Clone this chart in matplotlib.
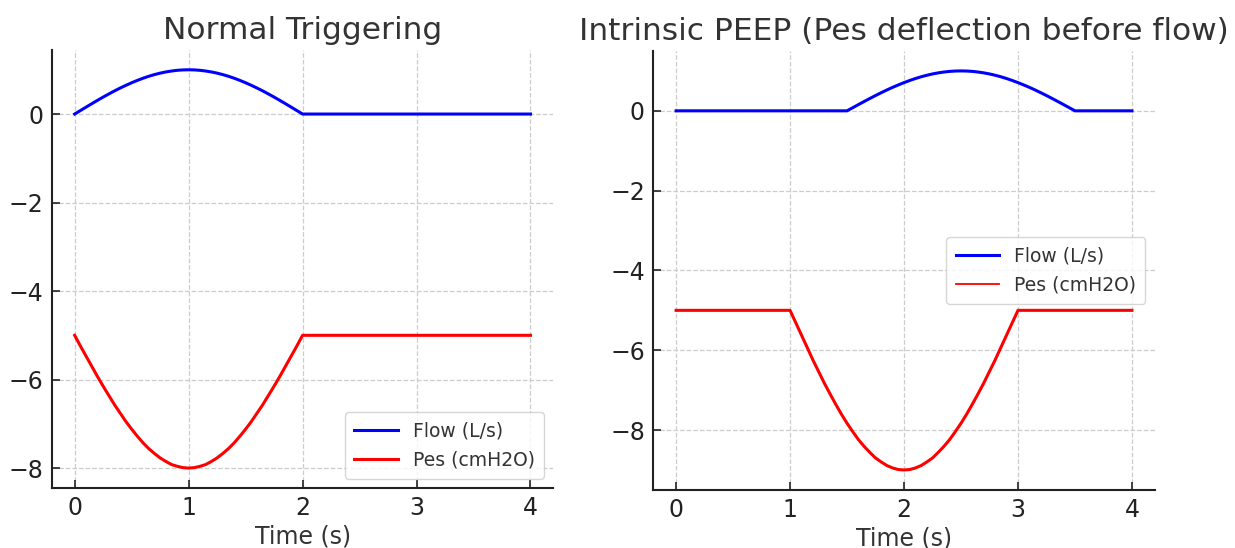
import matplotlib
matplotlib.use("Agg")
import matplotlib.pyplot as plt
from matplotlib.lines import Line2D

# ---------------- Normal triggering ----------------
normal_time = [0.0, 0.05, 0.1, 0.15, 0.2, 0.25, 0.3, 0.35, 0.4, 0.45,
               0.5, 0.55, 0.6, 0.65, 0.7, 0.75, 0.8, 0.85, 0.9, 0.95,
               1.0, 1.05, 1.1, 1.15, 1.2, 1.25, 1.3, 1.35, 1.4, 1.45,
               1.5, 1.55, 1.6, 1.65, 1.7, 1.75, 1.8, 1.85, 1.9, 1.95,
               2.0, 4.0]
normal_flow = [0.0, 0.078, 0.156, 0.233, 0.309, 0.383, 0.454, 0.523, 0.588, 0.649,
               0.707, 0.760, 0.809, 0.853, 0.891, 0.924, 0.951, 0.972, 0.988, 0.997,
               1.0, 0.997, 0.988, 0.972, 0.951, 0.924, 0.891, 0.853, 0.809, 0.760,
               0.707, 0.649, 0.588, 0.523, 0.454, 0.383, 0.309, 0.233, 0.156, 0.078,
               0.0, 0.0]
normal_pes = [-5.0, -5.24, -5.47, -5.70, -5.93, -6.15, -6.36, -6.57, -6.76, -6.95,
              -7.12, -7.28, -7.43, -7.56, -7.67, -7.77, -7.85, -7.92, -7.96, -7.99,
              -8.0, -7.99, -7.96, -7.92, -7.85, -7.77, -7.67, -7.56, -7.43, -7.28,
              -7.12, -6.95, -6.76, -6.57, -6.36, -6.15, -5.93, -5.70, -5.47, -5.24,
              -5.0, -5.0]

# ---------------- Intrinsic PEEP ----------------
peep_flow_time = [0.0, 1.5, 1.55, 1.6, 1.65, 1.7, 1.75, 1.8, 1.85, 1.9, 1.95,
                  2.0, 2.05, 2.1, 2.15, 2.2, 2.25, 2.3, 2.35, 2.4, 2.45,
                  2.5, 2.55, 2.6, 2.65, 2.7, 2.75, 2.8, 2.85, 2.9, 2.95,
                  3.0, 3.05, 3.1, 3.15, 3.2, 3.25, 3.3, 3.35, 3.4, 3.45,
                  3.5, 4.0]
peep_flow = [0.0, 0.0, 0.078, 0.156, 0.233, 0.309, 0.383, 0.454, 0.523, 0.588, 0.649,
             0.707, 0.760, 0.809, 0.853, 0.891, 0.924, 0.951, 0.972, 0.988, 0.997,
             1.0, 0.997, 0.988, 0.972, 0.951, 0.924, 0.891, 0.853, 0.809, 0.760,
             0.707, 0.649, 0.588, 0.523, 0.454, 0.383, 0.309, 0.233, 0.156, 0.078,
             0.0, 0.0]
peep_pes_time = [0.0, 1.0, 1.05, 1.1, 1.15, 1.2, 1.25, 1.3, 1.35, 1.4, 1.45,
                 1.5, 1.55, 1.6, 1.65, 1.7, 1.75, 1.8, 1.85, 1.9, 1.95,
                 2.0, 2.05, 2.1, 2.15, 2.2, 2.25, 2.3, 2.35, 2.4, 2.45,
                 2.5, 2.55, 2.6, 2.65, 2.7, 2.75, 2.8, 2.85, 2.9, 2.95,
                 3.0, 4.0]
peep_pes = [-5.0, -5.0, -5.31, -5.62, -5.93, -6.24, -6.53, -6.82, -7.09, -7.35, -7.60,
            -7.83, -8.04, -8.24, -8.41, -8.56, -8.70, -8.80, -8.89, -8.95, -8.99,
            -9.0, -8.99, -8.95, -8.89, -8.80, -8.70, -8.56, -8.41, -8.24, -8.04,
            -7.83, -7.60, -7.35, -7.09, -6.82, -6.53, -6.24, -5.93, -5.62, -5.31,
            -5.0, -5.0]

titles = ["Normal Triggering", "Intrinsic PEEP (Pes deflection before flow)"]
labels = ["Flow (L/s)", "Pes (cmH2O)"]
xlabel = "Time (s)"
xticks = [0, 1, 2, 3, 4]
yticks = [0, -2, -4, -6, -8]

text_color = "#333333"
plt.rcParams["font.family"] = ["DejaVu Sans"]
plt.rcParams["text.color"] = text_color
plt.rcParams["axes.labelcolor"] = text_color

fig = plt.figure(figsize=(12.35, 5.48), dpi=100)
ax1 = fig.add_axes([0.042, 0.1095, 0.406, 0.7995])
ax2 = fig.add_axes([0.529, 0.106, 0.406, 0.801])

def style(ax):
    ax.spines["top"].set_visible(False)
    ax.spines["right"].set_visible(False)
    for s in ("left", "bottom"):
        ax.spines[s].set_linewidth(1.5)
        ax.spines[s].set_color("#222222")
    ax.tick_params(direction="in", length=6, width=1.2, labelsize=17,
                   colors="#222222", pad=6)
    ax.grid(True, linestyle="--", color="#cccccc", linewidth=0.9)
    ax.set_axisbelow(True)
    ax.set_xticks(xticks)
    ax.set_yticks(yticks)
    ax.set_xlabel(xlabel, fontsize=17, labelpad=3)

# Left panel
ax1.plot(normal_time, normal_flow, color="blue", lw=2.2, label=labels[0])
ax1.plot(normal_time, normal_pes, color="red", lw=2.2, label=labels[1])
style(ax1)
ax1.set_title(titles[0], fontsize=22.5, pad=8)
ax1.legend(loc="lower right", fontsize=13.5, framealpha=0.8, edgecolor="#cccccc",
           handlelength=2.3, borderpad=0.5)

# Right panel
ax2.plot(peep_flow_time, peep_flow, color="blue", lw=2.2)
ax2.plot(peep_pes_time, peep_pes, color="red", lw=2.2)
style(ax2)
ax2.set_title(titles[1], fontsize=22.5, pad=8)
handles = [Line2D([], [], color="blue", lw=2.2), Line2D([], [], color="red", lw=1.3)]
ax2.legend(handles, labels, loc="center right", fontsize=13.5, framealpha=0.8,
           edgecolor="#cccccc", handlelength=2.3, borderpad=0.5)

fig.savefig("out.png", dpi=100)
